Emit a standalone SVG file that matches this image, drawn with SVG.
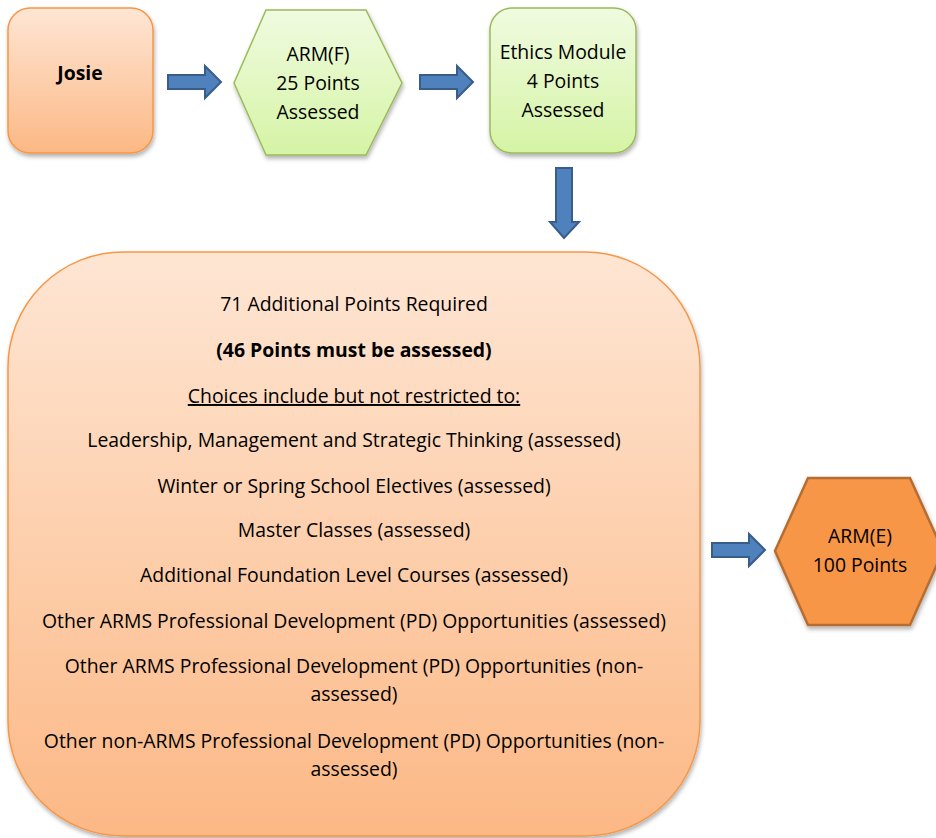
<svg xmlns="http://www.w3.org/2000/svg" width="936" height="838" viewBox="0 0 936 838">
<defs>
<linearGradient id="gOr" x1="0" y1="0" x2="0" y2="1"><stop offset="0" stop-color="#fee6d4"/><stop offset="1" stop-color="#fcb885"/></linearGradient>
<linearGradient id="gGr" x1="0" y1="0" x2="0" y2="1"><stop offset="0" stop-color="#f0fbe0"/><stop offset="1" stop-color="#d5f4a5"/></linearGradient>
<filter id="sh" x="-10%" y="-10%" width="120%" height="120%"><feDropShadow dx="1" dy="3" stdDeviation="2" flood-color="#000" flood-opacity="0.3"/></filter>
<path id="arR" d="M0,9 H37 V0 L53,16 L37,32 V23 H0 Z"/>
</defs>
<style>
text{font-family:"Open Sans","Noto Sans","Liberation Sans",sans-serif;fill:#000;text-anchor:middle}
.t{font-size:19.4px}
.arrow{fill:#4f81bd;stroke:#385d8a;stroke-width:2}
.or{fill:url(#gOr);stroke:#f79646;stroke-width:1.5;filter:url(#sh)}
.gr{fill:url(#gGr);stroke:#9bbb59;stroke-width:1.5;filter:url(#sh)}
</style>
<g id="josie"><rect class="or" x="8" y="8" width="145" height="145" rx="22"/><text class="t" x="80" y="80" font-weight="bold">Josie</text></g>
<g id="armf"><polygon class="gr" points="234,83 266,10 366,10 402,83 366,155 266,155"/>
<text class="t" x="318" y="61">ARM(F)</text><text class="t" x="318" y="90">25 Points</text><text class="t" x="318" y="119">Assessed</text></g>
<g id="ethics"><rect class="gr" x="490" y="8" width="146" height="145" rx="22"/>
<text class="t" x="563" y="59">Ethics Module</text><text class="t" x="563" y="88">4 Points</text><text class="t" x="563" y="117">Assessed</text></g>
<g id="choices"><rect class="or" x="8" y="252" width="692" height="584" rx="115"/>
<text class="t" x="354" y="311">71 Additional Points Required</text>
<text class="t" x="354" y="357" font-weight="bold">(46 Points must be assessed)</text>
<text class="t" x="354" y="403" text-decoration="underline">Choices include but not restricted to:</text>
<text class="t" x="354" y="447">Leadership, Management and Strategic Thinking (assessed)</text>
<text class="t" x="354" y="493">Winter or Spring School Electives (assessed)</text>
<text class="t" x="354" y="537">Master Classes (assessed)</text>
<text class="t" x="354" y="582">Additional Foundation Level Courses (assessed)</text>
<text class="t" x="354" y="628">Other ARMS Professional Development (PD) Opportunities (assessed)</text>
<text class="t" x="354" y="673">Other ARMS Professional Development (PD) Opportunities (non-</text>
<text class="t" x="354" y="701">assessed)</text>
<text class="t" x="354" y="748">Other non-ARMS Professional Development (PD) Opportunities (non-</text>
<text class="t" x="354" y="776">assessed)</text>
</g>
<g id="arme"><polygon points="775,551 808,478 910,478 943,551 910,625 808,625" fill="#f79646" stroke="#b66d31" stroke-width="2.5" filter="url(#sh)"/>
<text class="t" x="860" y="543">ARM(E)</text><text class="t" x="860" y="572">100 Points</text></g>
<g id="connectors">
<use href="#arR" class="arrow" x="168" y="66"/>
<use href="#arR" class="arrow" x="420" y="66"/>
<use href="#arR" class="arrow" x="712" y="534"/>
<path class="arrow" d="M556,168 H572 V222 H579 L564,238 L550,222 H556 Z"/>
</g>
</svg>
